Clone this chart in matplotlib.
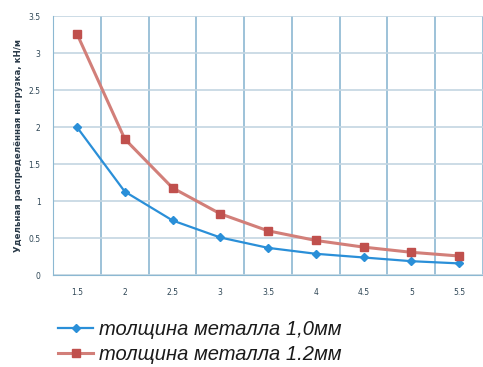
import numpy as np
import matplotlib.pyplot as plt

# ширина пролёта (категории оси X)
spans = ["1.5", "2", "2.5", "3", "3.5", "4", "4.5", "5", "5.5"]
load_10 = [2.0, 1.13, 0.74, 0.51, 0.37, 0.29, 0.24, 0.19, 0.16]
load_12 = [3.26, 1.84, 1.18, 0.83, 0.60, 0.47, 0.38, 0.31, 0.26]
y_ticks = [0, 0.5, 1, 1.5, 2, 2.5, 3, 3.5]
y_labels = ["0", "0.5", "1", "1.5", "2", "2.5", "3", "3.5"]

fig = plt.figure(figsize=(4.83, 3.67), dpi=100)
ax = fig.add_axes([0.11, 0.25, 0.89, 0.706])

pos = np.arange(len(spans))
ax.plot(pos, load_10, color='#2a8fd8', lw=1.6, marker='D', ms=4,
        label='толщина металла 1,0мм')
ax.plot(pos, load_12, color='#d27f79', lw=2.2, marker='s', ms=6,
        markerfacecolor='#c0504d', markeredgecolor='#c0504d',
        label='толщина металла 1.2мм')

ax.set_xlim(-0.5, len(spans) - 0.5)
ax.set_ylim(0, 3.5)
ax.set_xticks(pos)
ax.set_xticklabels(spans)
ax.set_xticks(np.arange(-0.5, len(spans)), minor=True)
ax.set_yticks(y_ticks)
ax.set_yticklabels(y_labels)
ax.tick_params(axis='both', which='both', length=0, labelsize=5.5,
               colors='#2e4655', pad=9)
ax.grid(True, axis='y', which='major', color='#c4d6e2', lw=1.2)
ax.grid(True, axis='x', which='minor', color='#8cb8d2', lw=1.2)
ax.set_axisbelow(True)
for s in ['top', 'right']:
    ax.spines[s].set_visible(False)
ax.spines['left'].set_color('#8cb8d2')
ax.spines['bottom'].set_color('#8cb8d2')

ax.set_ylabel('Удельная распределённая нагрузка, кН/м', fontsize=6.2,
              fontweight='bold', color='#2a3a48', labelpad=4)

fig.legend(loc='upper left', bbox_to_anchor=(0.12, 0.128), frameon=False,
           prop={'family': 'Liberation Sans', 'style': 'italic', 'size': 14.5},
           labelcolor='#1a1a1a',
           handlelength=1.75, handletextpad=0.3, labelspacing=0.3,
           borderaxespad=0, borderpad=0)

plt.savefig('out.png', dpi=100)
